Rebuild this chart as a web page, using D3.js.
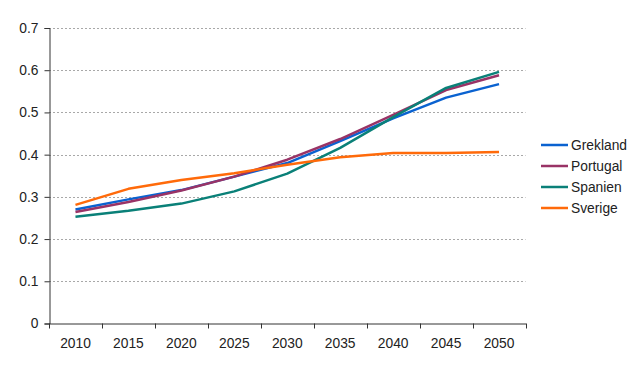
<!DOCTYPE html>
<html>
<head>
<meta charset="utf-8">
<script src="https://cdn.jsdelivr.net/npm/d3@7"></script>
<style>
  body { margin: 0; background: #fff; }
  text { font-family: "Liberation Sans", Arial, sans-serif; }
</style>
</head>
<body>
<svg></svg>
<script>
const years = ['2010', '2015', '2020', '2025', '2030', '2035', '2040', '2045', '2050'];
const yTicks = [0, 0.1, 0.2, 0.3, 0.4, 0.5, 0.6, 0.7];

const grekland = [0.270, 0.294, 0.316, 0.348, 0.380, 0.432, 0.486, 0.535, 0.567];
const portugal = [0.264, 0.288, 0.315, 0.348, 0.388, 0.437, 0.494, 0.553, 0.588];
const spanien  = [0.253, 0.267, 0.284, 0.313, 0.355, 0.416, 0.489, 0.558, 0.596];
const sverige  = [0.281, 0.319, 0.340, 0.356, 0.376, 0.394, 0.404, 0.404, 0.406];

const seriesNames = ['Grekland', 'Portugal', 'Spanien', 'Sverige'];
const seriesColors = ['#0a62d0', '#993366', '#0a8078', '#ff6a0a'];

const svgWidth = 640;
const svgHeight = 371;
const fontSize = '13.8px';

const series = [grekland, portugal, spanien, sverige].map((vals, i) => ({
    name: seriesNames[i],
    color: seriesColors[i],
    values: vals
}));

const svg = d3.select('svg')
    .attr('width', svgWidth)
    .attr('height', svgHeight);

const xScale = d3.scaleBand()
    .domain(years)
    .range([49, 525.5])
    .padding(0);

const yScale = d3.scaleLinear()
    .domain([0, 0.7])
    .range([323.5, 28]);

// gridlines
svg.append('g')
    .selectAll('line')
    .data(yTicks.filter(t => t > 0))
    .enter()
    .append('line')
    .attr('x1', 49)
    .attr('x2', 525.5)
    .attr('y1', d => Math.round(yScale(d)) + 0.5)
    .attr('y2', d => Math.round(yScale(d)) + 0.5)
    .attr('stroke', '#a8a8a8')
    .attr('stroke-width', 1)
    .attr('stroke-dasharray', '2,2');

// y axis
const yAxis = svg.append('g')
    .attr('transform', 'translate(49.5, 0)')
    .call(d3.axisLeft(yScale).tickValues(yTicks).tickFormat(d3.format('')).tickSize(5).tickPadding(6));

// x axis
const xAxis = svg.append('g')
    .attr('transform', 'translate(0, 323.5)')
    .call(d3.axisBottom(xScale).tickSize(0).tickPadding(15));

// x tick marks at band boundaries
xAxis.selectAll('.bound')
    .data(years.concat(['end']))
    .enter()
    .append('line')
    .attr('class', 'bound')
    .attr('x1', (d, i) => Math.round(xScale.range()[0] + i * xScale.step()) + 0.5)
    .attr('x2', (d, i) => Math.round(xScale.range()[0] + i * xScale.step()) + 0.5)
    .attr('y1', 0)
    .attr('y2', 5)
    .attr('stroke', '#333');

[yAxis, xAxis].forEach(ax => {
    ax.select('.domain').attr('stroke', '#333');
    ax.selectAll('.tick line').attr('stroke', '#333');
    ax.selectAll('text')
        .attr('fill', '#222')
        .style('font-size', fontSize)
        .style('font-family', '"Liberation Sans", Arial, sans-serif');
});

const line = d3.line()
    .x((d, i) => xScale(years[i]) + xScale.bandwidth() / 2)
    .y(d => yScale(d));

svg.append('g')
    .selectAll('path')
    .data(series)
    .enter()
    .append('path')
    .attr('d', s => line(s.values))
    .attr('fill', 'none')
    .attr('stroke', s => s.color)
    .attr('stroke-width', 2.5)
    .attr('stroke-linejoin', 'round');

// legend
const legend = svg.append('g')
    .attr('transform', 'translate(541, 145)');

const items = legend.selectAll('g')
    .data(series)
    .enter()
    .append('g')
    .attr('transform', (d, i) => `translate(0, ${i * 21})`);

items.append('line')
    .attr('x1', 0)
    .attr('x2', 27)
    .attr('stroke', d => d.color)
    .attr('stroke-width', 2.5);

items.append('text')
    .attr('x', 30)
    .attr('dy', '0.35em')
    .attr('fill', '#222')
    .style('font-size', fontSize)
    .text(d => d.name);
</script>
</body>
</html>
